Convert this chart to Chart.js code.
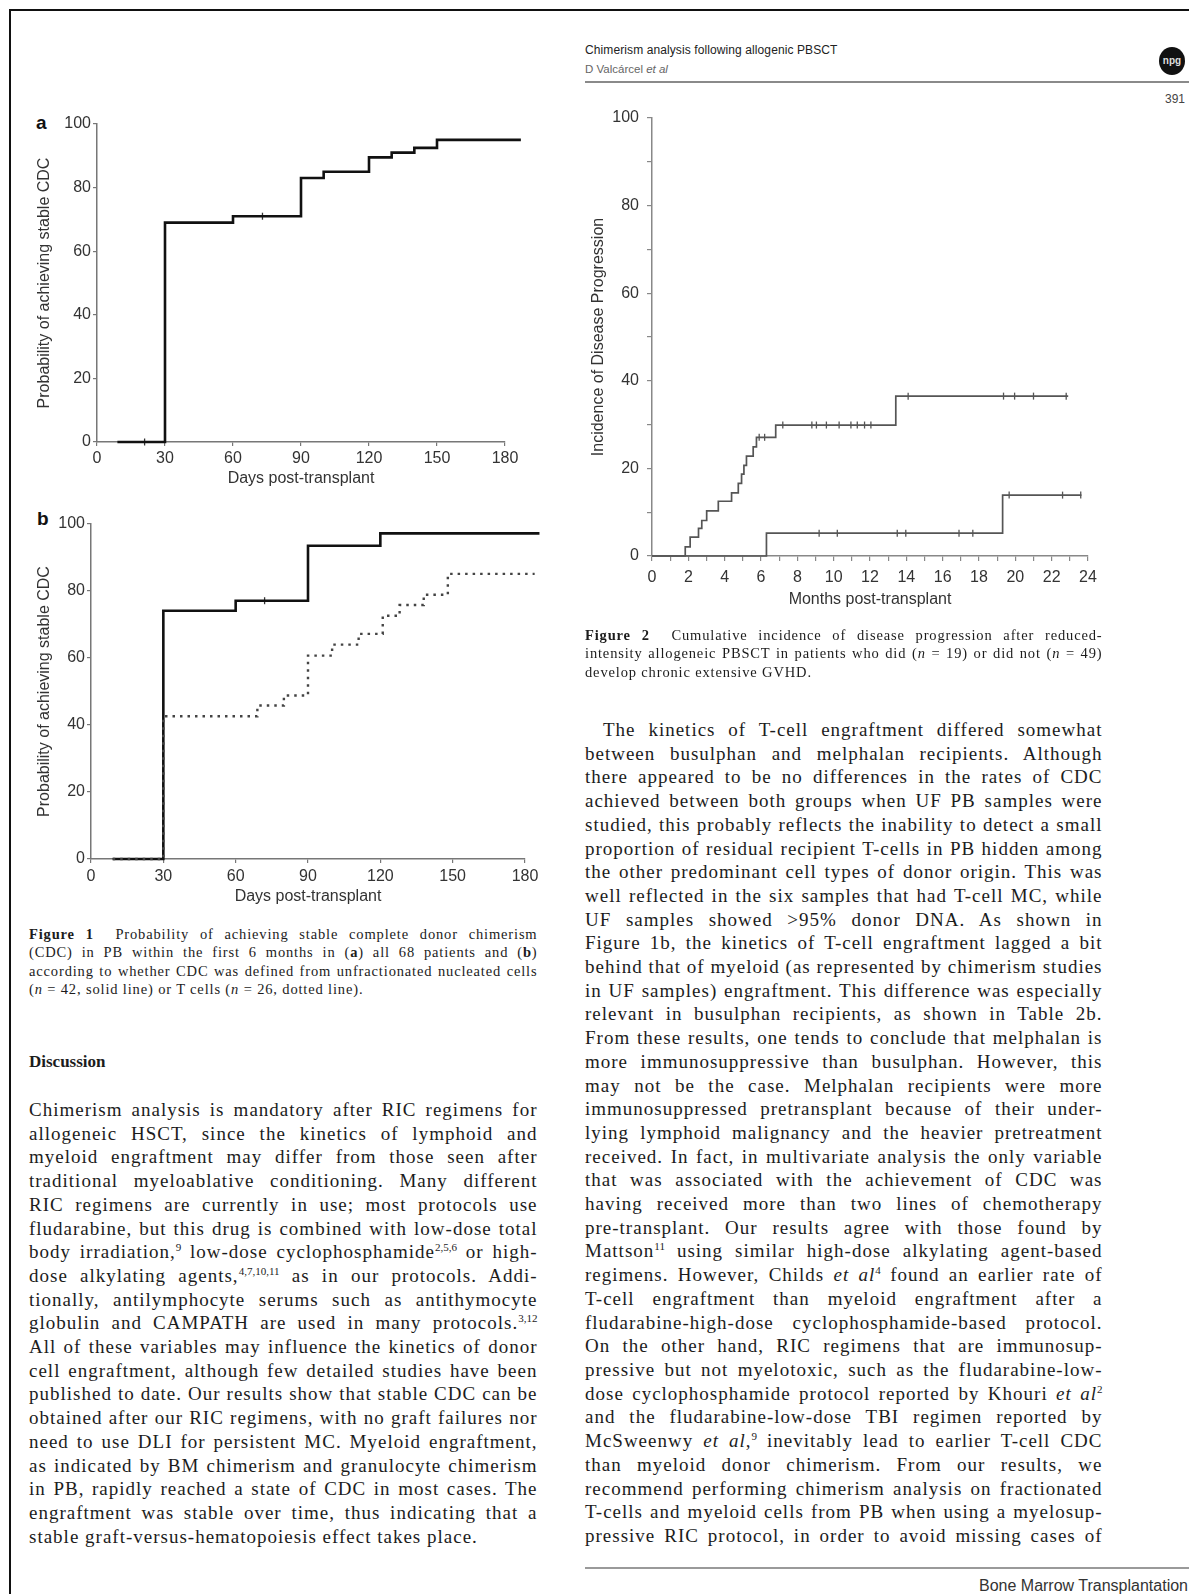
<!DOCTYPE html>
<html>
<head>
<meta charset="utf-8">
<script src="https://cdn.jsdelivr.net/npm/chart.js@4.4.0/dist/chart.umd.min.js"></script>
<style>
  body { margin: 0; background: #fff; }
  #page { position: relative; width: 1189px; height: 1594px; overflow: hidden; background: #fff; }
  canvas { position: absolute; }
  .abs { position: absolute; }
  .frameTop { left: 9px; top: 9px; width: 1180px; height: 2px; background: #111; }
  .frameLeft { left: 9px; top: 9px; width: 2px; height: 1585px; background: #111; }
  .sans { font-family: "Liberation Sans", Arial, sans-serif; }
  .serif { font-family: "Liberation Serif", "Times New Roman", serif; color: #1c1c1c; }
  .ln { display: block; white-space: nowrap; }
  .body { font-size: 19px; line-height: 23.7px; letter-spacing: 1px; }
  .cap { font-size: 14.5px; line-height: 18.3px; letter-spacing: 0.85px; }
  sup { font-size: 0.58em; line-height: 0; vertical-align: 0.6em; letter-spacing: 0; }
  .panel { font-family: "Liberation Sans", Arial, sans-serif; font-weight: bold; font-size: 19px; color: #111; }
</style>
</head>
<body>
<div id="page">
  <div class="abs frameTop"></div>
  <div class="abs frameLeft"></div>

  <!-- running head -->
  <div class="abs sans" style="left:585px;top:43px;font-size:12px;color:#222;letter-spacing:0.1px;">Chimerism analysis following allogenic PBSCT</div>
  <div class="abs sans" style="left:585px;top:63px;font-size:11.5px;color:#666;">D Valcárcel <i>et al</i></div>
  <div class="abs" style="left:585px;top:81px;width:604px;height:2px;background:#8a8a8a;"></div>
  <div class="abs sans" style="left:1159px;top:47px;width:26px;height:28px;border-radius:50%;background:#111;color:#ddd;font-size:10px;font-weight:bold;line-height:28px;text-align:center;">npg</div>
  <div class="abs sans" style="left:1150px;top:92px;width:35px;text-align:right;font-size:12px;color:#444;">391</div>

  <!-- charts -->
  <div class="abs panel" style="left:36px;top:112px;">a</div>
  <canvas id="chartA" width="560" height="405" style="left:0;top:95px;"></canvas>
  <div class="abs panel" style="left:37px;top:508px;">b</div>
  <canvas id="chartB" width="580" height="415" style="left:0;top:495px;"></canvas>
  <canvas id="chartC" width="560" height="530" style="left:560px;top:90px;"></canvas>

  <!-- Figure 1 caption -->
  <div class="abs serif cap" style="left:29px;top:925px;width:509px;">
    <span class="ln"><b>Figure 1</b>&nbsp; Probability of achieving stable complete donor chimerism</span>
    <span class="ln">(CDC) in PB within the first 6 months in (<b>a</b>) all 68 patients and (<b>b</b>)</span>
    <span class="ln">according to whether CDC was defined from unfractionated nucleated cells</span>
    <span class="ln last">(<i>n</i> = 42, solid line) or T cells (<i>n</i> = 26, dotted line).</span>
  </div>

  <!-- Figure 2 caption -->
  <div class="abs serif cap" style="left:585px;top:626px;width:518px;">
    <span class="ln"><b>Figure 2</b>&nbsp; Cumulative incidence of disease progression after reduced-</span>
    <span class="ln">intensity allogeneic PBSCT in patients who did (<i>n</i> = 19) or did not (<i>n</i> = 49)</span>
    <span class="ln last">develop chronic extensive GVHD.</span>
  </div>

  <div class="abs serif" style="left:29px;top:1052px;font-size:17px;font-weight:bold;">Discussion</div>

  <!-- left column -->
  <div class="abs serif body" style="left:29px;top:1098px;width:509px;">
    <span class="ln">Chimerism analysis is mandatory after RIC regimens for</span>
    <span class="ln">allogeneic HSCT, since the kinetics of lymphoid and</span>
    <span class="ln">myeloid engraftment may differ from those seen after</span>
    <span class="ln">traditional myeloablative conditioning. Many different</span>
    <span class="ln">RIC regimens are currently in use; most protocols use</span>
    <span class="ln">fludarabine, but this drug is combined with low-dose total</span>
    <span class="ln">body irradiation,<sup>9</sup> low-dose cyclophosphamide<sup>2,5,6</sup> or high-</span>
    <span class="ln">dose alkylating agents,<sup>4,7,10,11</sup> as in our protocols. Addi-</span>
    <span class="ln">tionally, antilymphocyte serums such as antithymocyte</span>
    <span class="ln">globulin and CAMPATH are used in many protocols.<sup>3,12</sup></span>
    <span class="ln">All of these variables may influence the kinetics of donor</span>
    <span class="ln">cell engraftment, although few detailed studies have been</span>
    <span class="ln">published to date. Our results show that stable CDC can be</span>
    <span class="ln">obtained after our RIC regimens, with no graft failures nor</span>
    <span class="ln">need to use DLI for persistent MC. Myeloid engraftment,</span>
    <span class="ln">as indicated by BM chimerism and granulocyte chimerism</span>
    <span class="ln">in PB, rapidly reached a state of CDC in most cases. The</span>
    <span class="ln">engraftment was stable over time, thus indicating that a</span>
    <span class="ln last">stable graft-versus-hematopoiesis effect takes place.</span>
  </div>

  <!-- right column -->
  <div class="abs serif body" style="left:585px;top:718px;width:518px;">
    <span class="ln" style="padding-left:18px;">The kinetics of T-cell engraftment differed somewhat</span>
    <span class="ln">between busulphan and melphalan recipients. Although</span>
    <span class="ln">there appeared to be no differences in the rates of CDC</span>
    <span class="ln">achieved between both groups when UF PB samples were</span>
    <span class="ln">studied, this probably reflects the inability to detect a small</span>
    <span class="ln">proportion of residual recipient T-cells in PB hidden among</span>
    <span class="ln">the other predominant cell types of donor origin. This was</span>
    <span class="ln">well reflected in the six samples that had T-cell MC, while</span>
    <span class="ln">UF samples showed &gt;95% donor DNA. As shown in</span>
    <span class="ln">Figure 1b, the kinetics of T-cell engraftment lagged a bit</span>
    <span class="ln">behind that of myeloid (as represented by chimerism studies</span>
    <span class="ln">in UF samples) engraftment. This difference was especially</span>
    <span class="ln">relevant in busulphan recipients, as shown in Table 2b.</span>
    <span class="ln">From these results, one tends to conclude that melphalan is</span>
    <span class="ln">more immunosuppressive than busulphan. However, this</span>
    <span class="ln">may not be the case. Melphalan recipients were more</span>
    <span class="ln">immunosuppressed pretransplant because of their under-</span>
    <span class="ln">lying lymphoid malignancy and the heavier pretreatment</span>
    <span class="ln">received. In fact, in multivariate analysis the only variable</span>
    <span class="ln">that was associated with the achievement of CDC was</span>
    <span class="ln">having received more than two lines of chemotherapy</span>
    <span class="ln">pre-transplant. Our results agree with those found by</span>
    <span class="ln">Mattson<sup>11</sup> using similar high-dose alkylating agent-based</span>
    <span class="ln">regimens. However, Childs <i>et al</i><sup>4</sup> found an earlier rate of</span>
    <span class="ln">T-cell engraftment than myeloid engraftment after a</span>
    <span class="ln">fludarabine-high-dose cyclophosphamide-based protocol.</span>
    <span class="ln">On the other hand, RIC regimens that are immunosup-</span>
    <span class="ln">pressive but not myelotoxic, such as the fludarabine-low-</span>
    <span class="ln">dose cyclophosphamide protocol reported by Khouri <i>et al</i><sup>2</sup></span>
    <span class="ln">and the fludarabine-low-dose TBI regimen reported by</span>
    <span class="ln">McSweenwy <i>et al</i>,<sup>9</sup> inevitably lead to earlier T-cell CDC</span>
    <span class="ln">than myeloid donor chimerism. From our results, we</span>
    <span class="ln">recommend performing chimerism analysis on fractionated</span>
    <span class="ln">T-cells and myeloid cells from PB when using a myelosup-</span>
    <span class="ln">pressive RIC protocol, in order to avoid missing cases of</span>
  </div>

  <div class="abs" style="left:585px;top:1567px;width:604px;height:2px;background:#9a9a9a;"></div>
  <div class="abs sans" style="left:900px;top:1577px;width:288px;text-align:right;font-size:16px;color:#333;">Bone Marrow Transplantation</div>
</div>

<script>
// ---- Figure 1a: all patients ----
const daysAll = [9, 30, 60, 90, 100, 120, 130, 140, 150, 187];
const probAll = [0, 69, 71, 83, 85, 89.5, 91, 92.5, 95, 95];
const censorDaysAll = [21, 73];
const censorProbAll = [0, 71];

// ---- Figure 1b: unfractionated cells (solid) vs T cells (dotted) ----
const daysUF = [9, 30, 60, 90, 120, 186];
const probUF = [0, 74.1, 77.1, 93.5, 97.2, 97.2];
const censorDaysUF = [72];
const censorProbUF = [77.1];
const daysT = [9, 30, 69, 80, 90, 100, 111, 121, 128, 138, 148, 184];
const probT = [0, 42.6, 45.8, 48.8, 60.7, 64, 67.2, 72.6, 75.8, 78.9, 85.1, 85.1];

const dayTicks = [0, 30, 60, 90, 120, 150, 180];
const probTicks = [0, 20, 40, 60, 80, 100];

// ---- Figure 2: no chronic GVHD (upper) vs chronic GVHD (lower) ----
const monthsNoGvhd = [0, 1.83, 2.1, 2.56, 2.74, 3.01, 3.65, 4.38, 4.75, 4.93, 5.06, 5.2, 5.57, 5.75, 6.81, 13.42, 22.91];
const incNoGvhd = [0, 2.1, 4.3, 6.3, 8.1, 10.3, 12.5, 14.4, 16.6, 18.7, 20.7, 22.8, 24.9, 27.1, 29.9, 36.5, 36.5];
const censorMonthsNoGvhd = [5.9, 6.2, 7.2, 8.8, 9.05, 9.6, 10.3, 10.95, 11.3, 11.7, 12.05, 14.1, 19.35, 19.96, 21.0, 22.8];
const censorIncNoGvhd = [27.1, 27.1, 29.9, 29.9, 29.9, 29.9, 29.9, 29.9, 29.9, 29.9, 29.9, 36.5, 36.5, 36.5, 36.5, 36.5];
const monthsGvhd = [0, 6.3, 19.3, 23.64];
const incGvhd = [0, 5.2, 13.9, 13.9];
const censorMonthsGvhd = [9.2, 10.2, 13.5, 13.97, 16.9, 17.66, 19.66, 22.6, 23.6];
const censorIncGvhd = [5.2, 5.2, 5.2, 5.2, 5.2, 5.2, 13.9, 13.9, 13.9];

const monthLabels = [0, 2, 4, 6, 8, 10, 12, 14, 16, 18, 20, 22, 24];
const incLabels = [0, 20, 40, 60, 80, 100];

const SANS = '"Liberation Sans", Arial, sans-serif';
const pts = (xs, ys) => xs.map((x, i) => ({ x: x, y: ys[i] }));

function curve(xs, ys, color, width, dash) {
  return {
    data: pts(xs, ys), stepped: true, borderColor: color, borderWidth: width,
    borderDash: dash || [], pointRadius: 0, fill: false, clip: false,
    borderCapStyle: 'butt', borderJoinStyle: 'miter'
  };
}
function censors(xs, ys, color) {
  return {
    data: pts(xs, ys), showLine: false, pointStyle: 'line', rotation: 90,
    pointRadius: 3.5, pointBorderWidth: 1.3, pointBorderColor: color, clip: false
  };
}

function kmChart(id, datasets, o) {
  const font = { family: SANS, size: 16 };
  return new Chart(document.getElementById(id), {
    type: 'line',
    data: { datasets: datasets },
    options: {
      responsive: false, animation: false, devicePixelRatio: 1,
      layout: { padding: { top: o.padTop, right: o.padRight, left: 0, bottom: 0 } },
      plugins: { legend: { display: false }, tooltip: { enabled: false } },
      scales: {
        x: {
          type: 'linear', min: 0, max: o.xMax,
          afterBuildTicks: s => { s.ticks = o.xTicks.map(v => ({ value: v })); },
          afterFit: s => { s.height = o.xHeight; },
          ticks: { font: font, color: '#333', padding: o.xPad, maxRotation: 0, autoSkip: false,
                   callback: v => (o.xLabels.includes(v) ? String(v) : '') },
          grid: { drawOnChartArea: false, drawTicks: true, tickLength: o.tick, color: o.axis, lineWidth: 1.2 },
          border: { display: true, color: o.axis, width: 1.5 },
          title: { display: true, text: o.xTitle, font: font, color: '#333', padding: { top: 0, bottom: o.xTitlePad } }
        },
        y: {
          type: 'linear', min: 0, max: 100,
          afterBuildTicks: s => { s.ticks = o.yTicks.map(v => ({ value: v })); },
          afterFit: s => { s.width = o.yWidth; },
          ticks: { font: font, color: '#333', padding: o.yPad, autoSkip: false,
                   callback: v => (o.yLabels.includes(v) ? String(v) : '') },
          grid: { drawOnChartArea: false, drawTicks: true, tickLength: o.tick, color: o.axis, lineWidth: 1.2 },
          border: { display: true, color: o.axis, width: 1.5 },
          title: { display: true, text: o.yTitle, font: font, color: '#333', padding: { top: o.yTitlePad, bottom: 0 } }
        }
      }
    }
  });
}

kmChart('chartA', [
  curve(daysAll, probAll, '#111', 2.6),
  censors(censorDaysAll, censorProbAll, '#333')
], {
  xMax: 180, xTicks: dayTicks, xLabels: dayTicks, yTicks: probTicks, yLabels: probTicks,
  padTop: 29, padRight: 55, yWidth: 97, xHeight: 58, xPad: 3, yPad: 2, tick: 4,
  xTitlePad: 12, yTitlePad: 35, axis: '#777',
  xTitle: 'Days post-transplant', yTitle: 'Probability of achieving stable CDC'
});

kmChart('chartB', [
  curve(daysT, probT, '#444', 2.4, [2.5, 5]),
  curve(daysUF, probUF, '#111', 2.6),
  censors(censorDaysUF, censorProbUF, '#333')
], {
  xMax: 180, xTicks: dayTicks, xLabels: dayTicks, yTicks: probTicks, yLabels: probTicks,
  padTop: 29, padRight: 55, yWidth: 91, xHeight: 51, xPad: 3.5, yPad: 2, tick: 4,
  xTitlePad: 3.5, yTitlePad: 35, axis: '#777',
  xTitle: 'Days post-transplant', yTitle: 'Probability of achieving stable CDC'
});

const monthMinor = Array.from({ length: 25 }, (_, i) => i);
const incMinor = [0, 10, 20, 30, 40, 50, 60, 70, 80, 90, 100];
kmChart('chartC', [
  curve(monthsNoGvhd, incNoGvhd, '#555', 1.7),
  censors(censorMonthsNoGvhd, censorIncNoGvhd, '#555'),
  curve(monthsGvhd, incGvhd, '#555', 1.7),
  censors(censorMonthsGvhd, censorIncGvhd, '#555')
], {
  xMax: 24, xTicks: monthMinor, xLabels: monthLabels, yTicks: incMinor, yLabels: incLabels,
  padTop: 28, padRight: 32, yWidth: 92, xHeight: 64, xPad: 7, yPad: 8, tick: 5,
  xTitlePad: 10.4, yTitlePad: 29.4, axis: '#888',
  xTitle: 'Months post-transplant', yTitle: 'Incidence of Disease Progression'
});

// justify every printed line to its column width, as in the typeset page
function fitLines() {
  document.querySelectorAll('.ln').forEach(el => {
    const W = el.clientWidth - (parseFloat(el.style.paddingLeft) || 0);
    const probe = document.createElement('span');
    probe.innerHTML = el.innerHTML;
    el.innerHTML = '';
    el.appendChild(probe);
    const w = probe.getBoundingClientRect().width;
    const text = probe.textContent;
    const gaps = (text.match(/[ \u00a0]/g) || []).length;
    const base = parseFloat(getComputedStyle(el).letterSpacing) || 0;
    if (w > W) {
      el.style.letterSpacing = (base + (W - w - 1) / text.length) + 'px';
    } else if (!el.classList.contains('last') && gaps > 0) {
      el.style.wordSpacing = ((W - w - 0.5) / gaps) + 'px';
    }
  });
}
if (document.fonts && document.fonts.ready) document.fonts.ready.then(fitLines); else fitLines();
</script>
</body>
</html>
